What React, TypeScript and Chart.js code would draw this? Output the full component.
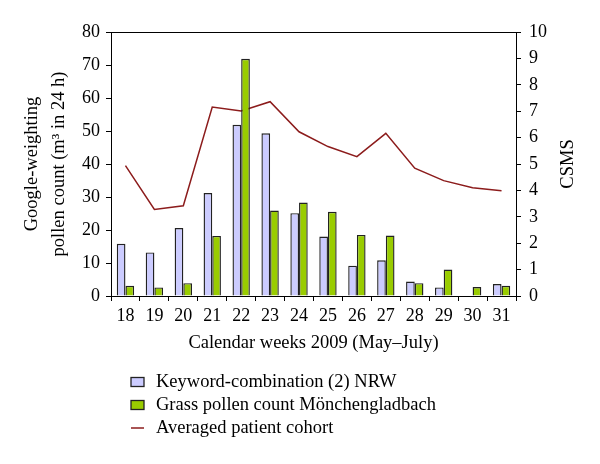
import React, { useEffect, useRef } from "react";
import { Chart, registerables } from "chart.js";

Chart.register(...registerables);

const weeks = ["18", "19", "20", "21", "22", "23", "24", "25", "26", "27", "28", "29", "30", "31"];
const keywordNRW = [15.8, 13.2, 20.6, 31.2, 51.9, 49.3, 25.1, 18.0, 9.2, 10.8, 4.4, 2.6, 0, 3.6];
const grassPollen = [3.1, 2.6, 3.9, 18.2, 71.9, 25.9, 28.3, 25.5, 18.5, 18.3, 3.9, 8.0, 2.7, 3.1];
const patientCohort = [4.94, 3.28, 3.42, 7.16, 7.01, 7.36, 6.22, 5.66, 5.28, 6.16, 4.84, 4.37, 4.1, 3.99];

const labelKeyword = "Keyword-combination (2) NRW";
const labelGrass = "Grass pollen count Mönchengladbach";
const labelCohort = "Averaged patient cohort";
const xTitle = "Calendar weeks 2009 (May–July)";
const yLeftTitle = ["Google-weighting", "pollen count (m³ in 24 h)"];
const yRightTitle = "CSMS";

const FONT = '"Liberation Serif", "DejaVu Serif", serif';
const BLUE = "#ccccff";
const GREEN = "#99cc00";
const RED = "#8c1c1c";
const EDGE = "#222222";

const extrasPlugin = {
  id: "extras",
  afterDraw(chart: any) {
    const ctx = chart.ctx;
    const ca = chart.chartArea;
    ctx.save();
    ctx.strokeStyle = "#000";
    ctx.lineWidth = 1;
    ctx.beginPath();
    ctx.moveTo(ca.left, ca.top + 0.5);
    ctx.lineTo(ca.right, ca.top + 0.5);
    ctx.stroke();

    ctx.fillStyle = "#000";
    ctx.font = `18.5px ${FONT}`;
    ctx.textAlign = "center";
    ctx.textBaseline = "middle";
    ctx.save();
    ctx.translate(568, (ca.top + ca.bottom) / 2);
    ctx.rotate(-Math.PI / 2);
    ctx.fillText(yRightTitle, 0, 0);
    ctx.restore();

    const items = [
      { label: labelKeyword, type: "box", fill: BLUE },
      { label: labelGrass, type: "box", fill: GREEN },
      { label: labelCohort, type: "line", fill: RED },
    ];
    const rowY = [382, 405, 428];
    ctx.textAlign = "left";
    items.forEach((it, i) => {
      const y = rowY[i];
      if (it.type === "box") {
        ctx.fillStyle = it.fill;
        ctx.fillRect(131, y - 4.5, 13, 9);
        ctx.strokeStyle = EDGE;
        ctx.lineWidth = 1.3;
        ctx.strokeRect(131, y - 4.5, 13, 9);
      } else {
        ctx.strokeStyle = it.fill;
        ctx.lineWidth = 1.5;
        ctx.beginPath();
        ctx.moveTo(131, y);
        ctx.lineTo(144, y);
        ctx.stroke();
      }
      ctx.fillStyle = "#000";
      ctx.fillText(it.label, 156, y);
    });
    ctx.restore();
  },
};

export default function App() {
  const ref = useRef<HTMLCanvasElement | null>(null);

  useEffect(() => {
    document.body.style.margin = "0";
    if (!ref.current) return;
    const font = { family: FONT, size: 18 };
    const titleFont = { family: FONT, size: 18.5 };
    const chart = new Chart(ref.current, {
      type: "bar",
      data: {
        labels: weeks,
        datasets: [
          {
            type: "bar",
            label: labelKeyword,
            data: keywordNRW,
            backgroundColor: BLUE,
            borderColor: EDGE,
            borderWidth: 1.4,
            yAxisID: "y",
            order: 1,
            categoryPercentage: 0.6,
            barPercentage: 1,
          },
          {
            type: "bar",
            label: labelGrass,
            data: grassPollen,
            backgroundColor: GREEN,
            borderColor: EDGE,
            borderWidth: 1.4,
            yAxisID: "y",
            order: 1,
            categoryPercentage: 0.6,
            barPercentage: 1,
          },
          {
            type: "line",
            label: labelCohort,
            data: patientCohort,
            borderColor: RED,
            borderWidth: 1.5,
            pointRadius: 0,
            tension: 0,
            yAxisID: "y1",
            order: 2,
          } as any,
        ],
      },
      options: {
        responsive: false,
        animation: false,
        layout: { padding: { top: 32, bottom: 109, left: 0, right: 0 } },
        plugins: { legend: { display: false }, tooltip: { enabled: false } },
        scales: {
          x: {
            offset: true,
            grid: { offset: true, drawOnChartArea: false, drawTicks: true, tickLength: 5, color: "#000" },
            border: { display: true, color: "#000", width: 1 },
            ticks: { font, color: "#000", padding: 4, maxRotation: 0, autoSkip: false },
            title: { display: true, text: xTitle, font: titleFont, color: "#000", padding: { top: 0, bottom: 1 } },
            afterFit: (s: any) => {
              s.height = 59;
            },
          },
          y: {
            position: "left",
            min: 0,
            max: 80,
            ticks: { stepSize: 10, font, color: "#000", padding: 6 },
            grid: { drawOnChartArea: false, drawTicks: true, tickLength: 5, color: "#000" },
            border: { display: true, color: "#000", width: 1 },
            title: {
              display: true,
              text: yLeftTitle,
              font: { family: FONT, size: 18.5, lineHeight: "27px" },
              color: "#000",
              padding: { top: 19, bottom: 0 },
            },
            afterFit: (s: any) => {
              s.width = 111;
            },
          },
          y1: {
            position: "right",
            min: 0,
            max: 10,
            ticks: { stepSize: 1, font, color: "#000", padding: 8 },
            grid: { drawOnChartArea: false, drawTicks: true, tickLength: 5, color: "#000" },
            border: { display: true, color: "#000", width: 1 },
            title: { display: false, text: yRightTitle },
            afterFit: (s: any) => {
              s.width = 84;
            },
          },
        },
      } as any,
      plugins: [extrasPlugin],
    });
    return () => chart.destroy();
  }, []);

  return (
    <div style={{ width: 600, height: 464, background: "#fff" }}>
      <canvas ref={ref} width={600} height={464} />
    </div>
  );
}
